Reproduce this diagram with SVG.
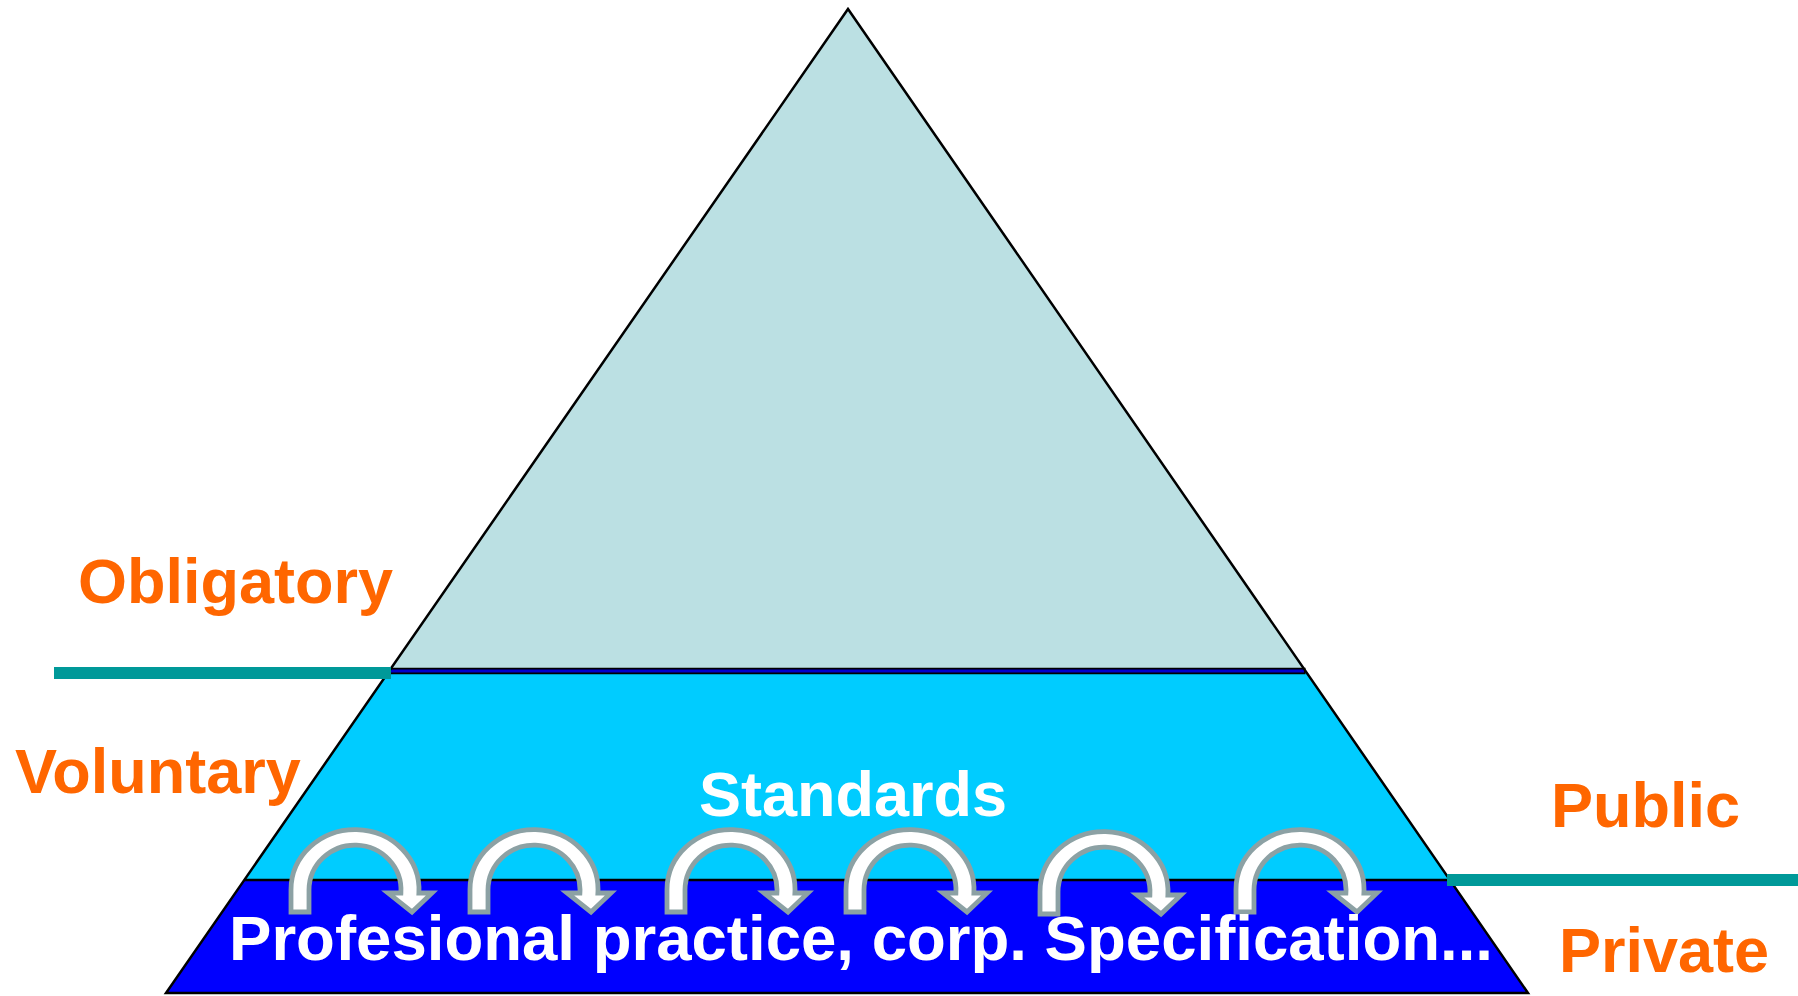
<svg xmlns="http://www.w3.org/2000/svg" xmlns:xlink="http://www.w3.org/1999/xlink" width="1798" height="996" viewBox="0 0 1798 996">
  <style>
    .lbl { font-family: "Liberation Sans", Arial, Helvetica, sans-serif; font-weight: bold; font-size: 63px; }
    .orange { fill: #FF6600; }
    .white { fill: #FFFFFF; }
    .edge { stroke: #000000; stroke-width: 2.5; stroke-linejoin: miter; }
    .teal { stroke: #009999; stroke-width: 12; fill: none; }
    .arrow { fill: #FFFFFF; stroke: #8CA1A4; stroke-width: 4.8; stroke-linejoin: miter; }
  </style>
  <defs>
    <path id="uarrow" d="M2,912 L2,890 A64,60 0 1 1 129.9,893 L143,893 L123,912 L99,893 L111.9,893 A46,45 0 1 0 20,890 L20,912 Z"/>
  </defs>
  <rect x="0" y="0" width="1798" height="996" fill="#FFFFFF"/>

  <g id="pyramid">
    <g id="top-obligatory">
      <polygon points="848,9 1305.5,671 389.2,671" fill="#BBE0E3"/>
    </g>
    <g id="middle-standards">
      <polygon points="389.2,671 1305.5,671 1449.9,880 244.3,880" fill="#00CCFF"/>
      <text class="lbl white" x="699" y="816">Standards</text>
    </g>
    <g id="bottom-practice">
      <polygon points="244.3,880 1449.9,880 1528,993 166,993" fill="#0000FF"/>
    </g>
    <line x1="389.2" y1="671" x2="1305.5" y2="671" stroke="#000000" stroke-width="6.5"/>
    <line x1="391" y1="671" x2="1304" y2="671" stroke="#0000CC" stroke-width="3"/>
    <line x1="244.3" y1="880" x2="1449.9" y2="880" class="edge"/>
    <polygon points="848,9 1528,993 166,993" fill="none" class="edge"/>
  </g>

  <g id="connectors">
    <use xlink:href="#uarrow" href="#uarrow" class="arrow" transform="translate(289,0)"/>
    <use xlink:href="#uarrow" href="#uarrow" class="arrow" transform="translate(468,0)"/>
    <use xlink:href="#uarrow" href="#uarrow" class="arrow" transform="translate(665,0)"/>
    <use xlink:href="#uarrow" href="#uarrow" class="arrow" transform="translate(844,0)"/>
    <use xlink:href="#uarrow" href="#uarrow" class="arrow" transform="translate(1038,2)"/>
    <use xlink:href="#uarrow" href="#uarrow" class="arrow" transform="translate(1234,0)"/>
  </g>

  <g id="practice-label">
    <text class="lbl white" x="229" y="960" textLength="1264" lengthAdjust="spacingAndGlyphs">Profesional practice, corp. Specification...</text>
  </g>

  <g id="divider-left">
    <line class="teal" x1="54" y1="673" x2="391" y2="673"/>
  </g>
  <g id="divider-right">
    <line class="teal" x1="1447" y1="880" x2="1798" y2="880" stroke-width="13"/>
  </g>

  <g id="label-obligatory"><text class="lbl orange" x="78" y="603">Obligatory</text></g>
  <g id="label-voluntary"><text class="lbl orange" x="15" y="793">Voluntary</text></g>
  <g id="label-public"><text class="lbl orange" x="1551" y="827">Public</text></g>
  <g id="label-private"><text class="lbl orange" x="1559" y="972">Private</text></g>
</svg>
